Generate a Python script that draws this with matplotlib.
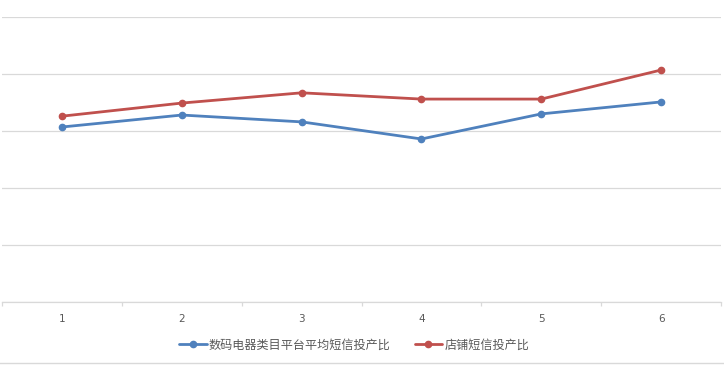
import matplotlib
matplotlib.use("Agg")
import matplotlib.pyplot as plt
from matplotlib.lines import Line2D
from matplotlib.ticker import FixedLocator, NullFormatter

plt.rcParams["font.family"] = ["Noto Sans CJK SC", "DejaVu Sans"]

categories = ["1", "2", "3", "4", "5", "6"]
platform_avg = [3.07, 3.28, 3.16, 2.86, 3.30, 3.51]
shop_ratio = [3.26, 3.49, 3.67, 3.56, 3.56, 4.07]
series_names = ["数码电器类目平台平均短信投产比", "店铺短信投产比"]

grid_col = "#d9d9d9"
text_col = "#595959"

fig = plt.figure(figsize=(7.24, 3.65), dpi=100)
ax = fig.add_axes([2 / 724, (365 - 302) / 365, 719 / 724, 285 / 365])

x = list(range(1, len(categories) + 1))
ax.plot(x, platform_avg, color="#4f81bd", lw=2.0, marker="o", ms=4.5,
        label=series_names[0], solid_capstyle="round")
ax.plot(x, shop_ratio, color="#c0504d", lw=2.0, marker="o", ms=4.5,
        label=series_names[1], solid_capstyle="round")

ax.set_xlim(0.5, len(categories) + 0.5)
ax.set_ylim(0, 5)
ax.set_yticks([0, 1, 2, 3, 4, 5])
ax.set_yticklabels([])
ax.tick_params(axis="y", length=0)
ax.grid(axis="y", color=grid_col, lw=0.9)
ax.set_axisbelow(True)

ax.set_xticks(x)
ax.set_xticklabels(categories, color=text_col, fontsize=7.5, family="DejaVu Sans")
ax.tick_params(axis="x", which="major", length=0, pad=9)
ax.xaxis.set_minor_locator(FixedLocator([i + 0.5 for i in range(0, len(categories) + 1)]))
ax.xaxis.set_minor_formatter(NullFormatter())
ax.tick_params(axis="x", which="minor", length=3, color=grid_col, width=0.9)

for side in ["top", "left", "right"]:
    ax.spines[side].set_visible(False)
ax.spines["bottom"].set_color(grid_col)
ax.spines["bottom"].set_linewidth(0.9)

leg = fig.legend(loc="center", bbox_to_anchor=(354 / 724, 1 - 345 / 365), ncol=2,
                 frameon=False, fontsize=8.7, handlelength=2.3, handletextpad=0.15,
                 columnspacing=2.0, labelcolor=text_col)

fig.add_artist(Line2D([0, 1], [1 - 363 / 365, 1 - 363 / 365], color=grid_col, lw=1.0,
                      transform=fig.transFigure))

fig.savefig("out.png", dpi=100)
